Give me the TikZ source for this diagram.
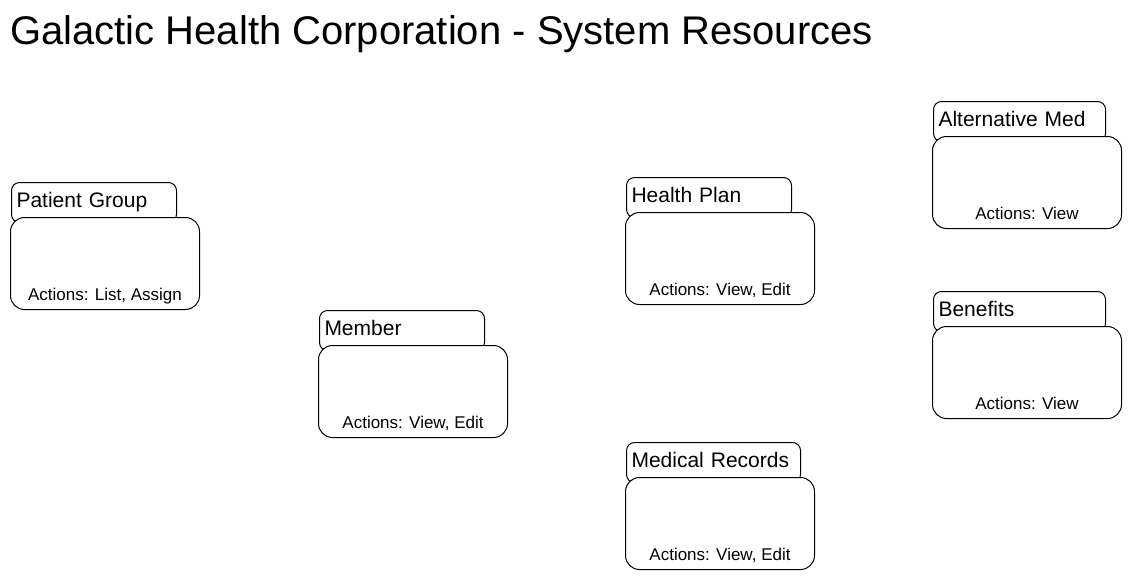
\documentclass[tikz,border=0pt]{standalone}
\usepackage{fontspec}
\setmainfont{Liberation Sans}
\usetikzlibrary{positioning}

\begin{document}
\begin{tikzpicture}[
  x=1pt, y=-1pt,
  ttl/.style={inner sep=0pt, anchor=base west, font=\fontsize{40}{46}\selectfont},
  hdr/.style={draw, fill=white, line width=1pt, rounded corners=8pt, anchor=north west,
    minimum height=40pt, text width=#1, inner xsep=5pt, inner ysep=0pt, align=left,
    text height=14pt, text depth=4pt, font=\fontsize{21}{25}\selectfont},
  hdr/.default=155pt,
  bdy/.style={draw, fill=white, line width=1pt, rounded corners=14pt,
    minimum width=189pt, minimum height=92pt, inner sep=0pt},
  act/.style={inner sep=0pt, text height=12pt, text depth=4pt, font=\fontsize{17}{20}\selectfont}
]
\useasboundingbox (0,0) rectangle (1131,579);

% Title
\node[ttl] (title) at (10,44) {Galactic Health Corporation - System Resources};

% Patient Group
\node[hdr] (pgTab) at (11,182) {Patient Group};
\node[bdy, below right=-6pt and -1pt of pgTab.south west] (pgBody) {};
\node[act, above=5pt of pgBody.south] (pgAct) {Actions: List, Assign};

% Member
\node[hdr] (mbTab) at (319,310) {Member};
\node[bdy, below right=-6pt and -1pt of mbTab.south west] (mbBody) {};
\node[act, above=5pt of mbBody.south] (mbAct) {Actions: View, Edit};

% Health Plan
\node[hdr] (hpTab) at (626,177) {Health Plan};
\node[bdy, below right=-6pt and -1pt of hpTab.south west] (hpBody) {};
\node[act, above=5pt of hpBody.south] (hpAct) {Actions: View, Edit};

% Medical Records
\node[hdr=164pt] (mrTab) at (626,442) {Medical Records};
\node[bdy, below right=-6pt and -1pt of mrTab.south west] (mrBody) {};
\node[act, above=5pt of mrBody.south] (mrAct) {Actions: View, Edit};

% Alternative Med
\node[hdr=162pt] (amTab) at (933,101) {Alternative Med};
\node[bdy, below right=-6pt and -1pt of amTab.south west] (amBody) {};
\node[act, above=5pt of amBody.south] (amAct) {Actions: View};

% Benefits
\node[hdr=162pt] (bnTab) at (933,291) {Benefits};
\node[bdy, below right=-6pt and -1pt of bnTab.south west] (bnBody) {};
\node[act, above=5pt of bnBody.south] (bnAct) {Actions: View};

\end{tikzpicture}
\end{document}
